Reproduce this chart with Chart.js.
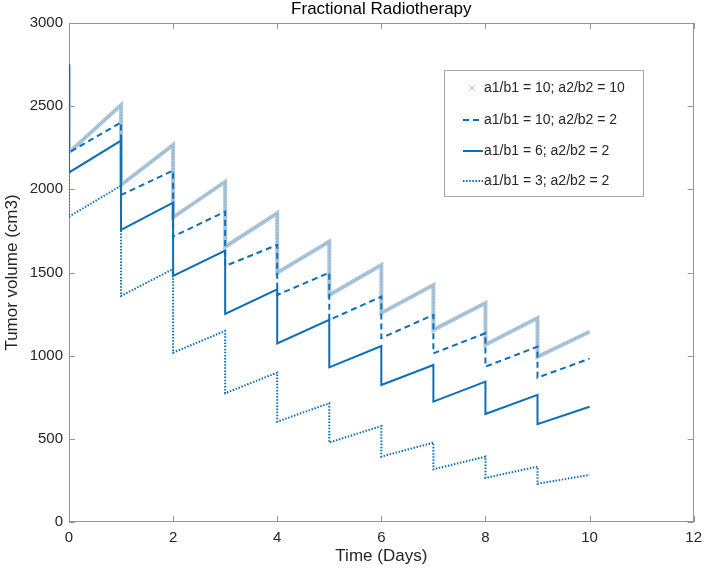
<!DOCTYPE html>
<html><head><meta charset="utf-8">
<script src="https://cdn.jsdelivr.net/npm/chart.js@4"></script>
<style>html,body{margin:0;padding:0;background:#fff}</style>
</head><body>
<canvas id="c" width="709" height="571"></canvas>
<script>
// ---- data ----
const doseDays = [0, 1, 2, 3, 4, 5, 6, 7, 8, 9];
const endDay = 10;
const seriesLabels = [
  'a1/b1 = 10; a2/b2 = 10',
  'a1/b1 = 10; a2/b2 = 2',
  'a1/b1 = 6; a2/b2 = 2',
  'a1/b1 = 3; a2/b2 = 2'
];
// volume just before each dose (days 0..9) and at the end (day 10)
const preDose_10_10 = [2750, 2507, 2267, 2046, 1856, 1686, 1545, 1425, 1317, 1227, 1144];
const postDose_10_10 = [2222, 2026, 1832, 1655, 1499, 1365, 1257, 1155, 1066, 993];
const preDose_10_2 = [2750, 2402, 2113, 1866, 1666, 1499, 1355, 1245, 1135, 1054, 982];
const postDose_10_2 = [2222, 1966, 1716, 1539, 1365, 1215, 1106, 1014, 934, 868];
const preDose_6_2 = [2750, 2293, 1920, 1632, 1399, 1215, 1058, 944, 844, 764, 693];
const postDose_6_2 = [2101, 1756, 1479, 1251, 1074, 930, 824, 724, 649, 588];
const preDose_3_2 = [2750, 2022, 1521, 1149, 898, 714, 577, 477, 393, 333, 283];
const postDose_3_2 = [1836, 1359, 1018, 774, 603, 478, 393, 317, 265, 230];
const xTicks = { min: 0, max: 12, step: 2 };
const yTicks = { min: 0, max: 3000, step: 500 };

function buildSeries(pre, post) {
  const pts = [];
  doseDays.forEach((d, i) => {
    pts.push({ x: d, y: pre[i] });
    pts.push({ x: d, y: post[i] });
  });
  pts.push({ x: endDay, y: pre[doseDays.length] });
  return pts;
}

const FONT = '"Liberation Sans", Arial, Helvetica, sans-serif';
const BLUE = '#0a6fb8';
const AXIS = '#969696';
const TXT = '#262626';

const boxPlugin = {
  id: 'box',
  afterLayout(chart) {
    const tb = chart.titleBlock;
    if (tb) {
      tb.left = chart.chartArea.left;
      tb.right = chart.chartArea.right;
      tb.width = tb.right - tb.left;
    }
  },
  beforeDatasetsDraw(chart) {
    const { ctx, chartArea: a, scales: { x, y } } = chart;
    ctx.save();
    ctx.strokeStyle = AXIS;
    ctx.lineWidth = 1;
    ctx.strokeRect(Math.round(a.left) + 0.5, Math.round(a.top) + 0.5,
      Math.round(a.right - a.left) - 1, Math.round(a.bottom - a.top) - 1);
    ctx.beginPath();
    x.ticks.forEach(t => {
      const px = Math.round(x.getPixelForValue(t.value)) + 0.5;
      ctx.moveTo(px, a.bottom); ctx.lineTo(px, a.bottom - 6);
      ctx.moveTo(px, a.top); ctx.lineTo(px, a.top + 6);
    });
    y.ticks.forEach(t => {
      const py = Math.round(y.getPixelForValue(t.value)) + 0.5;
      ctx.moveTo(a.left, py); ctx.lineTo(a.left + 6, py);
      ctx.moveTo(a.right, py); ctx.lineTo(a.right - 6, py);
    });
    ctx.stroke();
    ctx.restore();
  },
  afterDatasetsDraw(chart) {
    // dotted core of the dense marker band for the first series
    const meta = chart.getDatasetMeta(0);
    const { ctx } = chart;
    ctx.save();
    ctx.beginPath();
    meta.data.forEach((p, i) => { if (i === 0) ctx.moveTo(p.x, p.y); else ctx.lineTo(p.x, p.y); });
    ctx.setLineDash([1, 2]);
    ctx.strokeStyle = 'rgba(70,130,180,0.55)';
    ctx.lineWidth = 1;
    ctx.stroke();
    ctx.restore();
  },
  afterDraw(chart) {
    const { ctx } = chart;
    const L = 444, T = 70, R = 643, B = 196;
    ctx.save();
    ctx.fillStyle = '#fff';
    ctx.fillRect(L, T, R - L, B - T);
    ctx.strokeStyle = '#a8a8a8';
    ctx.lineWidth = 1;
    ctx.strokeRect(L + 0.5, T + 0.5, R - L, B - T);
    const rows = [88, 120, 151, 181];
    ctx.font = '14px ' + FONT;
    ctx.textBaseline = 'middle';
    ctx.textAlign = 'left';
    chart.data.datasets.forEach((ds, i) => {
      const yy = rows[i];
      ctx.save();
      if (i === 0) {
        ctx.strokeStyle = '#b4b4b4';
        ctx.lineWidth = 1;
        ctx.beginPath();
        ctx.moveTo(470, yy - 2); ctx.lineTo(474, yy + 2);
        ctx.moveTo(474, yy - 2); ctx.lineTo(470, yy + 2);
        ctx.stroke();
      } else {
        ctx.strokeStyle = ds.borderColor;
        ctx.lineWidth = ds.borderWidth;
        ctx.setLineDash(ds.borderDash || []);
        ctx.beginPath();
        ctx.moveTo(463, yy); ctx.lineTo(483, yy);
        ctx.stroke();
      }
      ctx.restore();
      ctx.fillStyle = TXT;
      ctx.fillText(ds.label, 484, yy);
    });
    ctx.restore();
  }
};

new Chart(document.getElementById('c'), {
  type: 'line',
  data: {
    datasets: [
      { label: seriesLabels[0], data: buildSeries(preDose_10_10, postDose_10_10),
        borderColor: '#aec6d9', borderWidth: 4, pointRadius: 0, order: 1 },
      { label: seriesLabels[1], data: buildSeries(preDose_10_2, postDose_10_2),
        borderColor: BLUE, borderWidth: 2, borderDash: [6, 4], pointRadius: 0, order: 0 },
      { label: seriesLabels[2], data: buildSeries(preDose_6_2, postDose_6_2),
        borderColor: BLUE, borderWidth: 2, pointRadius: 0, order: 0 },
      { label: seriesLabels[3], data: buildSeries(preDose_3_2, postDose_3_2),
        borderColor: BLUE, borderWidth: 2, borderDash: [1.5, 1.6], pointRadius: 0, order: 0 }
    ]
  },
  options: {
    responsive: false,
    animation: false,
    layout: { padding: { left: 0, right: 9, top: 0, bottom: 0 } },
    plugins: {
      legend: { display: false },
      tooltip: { enabled: false },
      title: { display: true, text: 'Fractional Radiotherapy', color: '#000',
        font: { family: FONT, size: 17, weight: 'normal', lineHeight: 1 },
        padding: { top: 0.5, bottom: 5.5 } }
    },
    scales: {
      x: {
        type: 'linear', min: xTicks.min, max: xTicks.max,
        ticks: { stepSize: xTicks.step, font: { family: FONT, size: 15 }, color: TXT, padding: 7, maxRotation: 0,
          callback: v => String(v) },
        grid: { display: false, drawTicks: false },
        border: { display: false },
        title: { display: true, text: 'Time (Days)', color: TXT,
          font: { family: FONT, size: 17 }, padding: { top: 0, bottom: 4 } },
        afterFit(s) { s.height = 49; }
      },
      y: {
        type: 'linear', min: yTicks.min, max: yTicks.max,
        ticks: { stepSize: yTicks.step, font: { family: FONT, size: 15 }, color: TXT, padding: 6,
          callback: v => String(v) },
        grid: { display: false, drawTicks: false },
        border: { display: false },
        title: { display: true, text: 'Tumor volume (cm3)', color: TXT,
          font: { family: FONT, size: 17 }, padding: { top: 2, bottom: 0 } },
        afterFit(s) { s.width = 69; }
      }
    }
  },
  plugins: [boxPlugin]
});
</script>
</body></html>
